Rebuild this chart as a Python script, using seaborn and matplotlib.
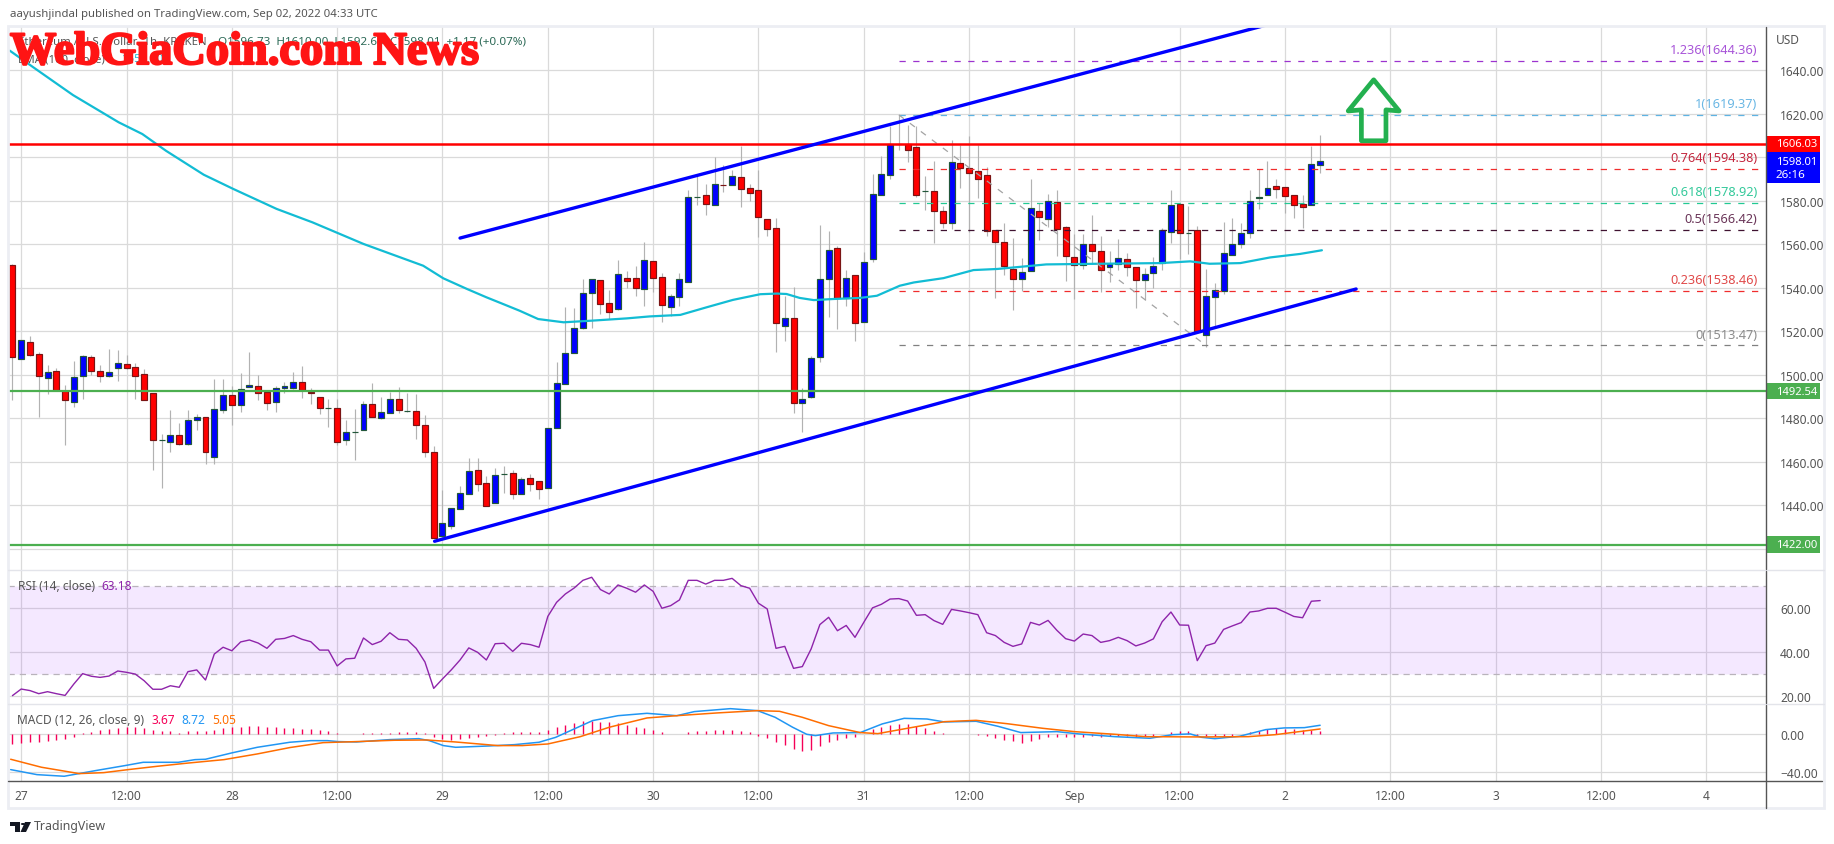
import numpy as np
import pandas as pd
import matplotlib
matplotlib.use('Agg')
import matplotlib.pyplot as plt
import matplotlib.patheffects as pe
import seaborn as sns
from matplotlib.lines import Line2D
from matplotlib.patches import Polygon, Rectangle
from matplotlib.transforms import blended_transform_factory

# Hours since Aug 27 00:00, one candle per hour
hours = np.arange(-1, 149)

opens = [1550.4, 1507.4, 1514.9, 1509.4, 1498.7, 1501.6, 1492.7, 1487.7, 1499.2, 1508.0,
         1501.6, 1499.2, 1503.3, 1504.8, 1503.5, 1500.2, 1491.5, 1469.9, 1469.3, 1472.2,
         1468.4, 1479.0, 1480.5, 1462.4, 1483.6, 1490.6, 1485.9, 1494.6, 1494.7, 1492.0,
         1487.7, 1493.7, 1494.1, 1496.6, 1492.0, 1489.7, 1484.6, 1484.6, 1469.8, 1473.6,
         1474.4, 1486.5, 1480.3, 1482.6, 1488.8, 1483.3, 1483.3, 1476.8, 1464.4, 1425.7,
         1430.7, 1438.1, 1445.4, 1456.2, 1450.2, 1441.3, 1454.3, 1454.8, 1445.0, 1452.5,
         1451.1, 1448.2, 1475.7, 1495.9, 1509.8, 1521.6, 1537.7, 1543.4, 1532.8, 1530.4,
         1544.3, 1544.3, 1539.6, 1552.1, 1544.8, 1531.3, 1535.9, 1542.8, 1581.6, 1582.4,
         1578.1, 1587.2, 1587.3, 1590.7, 1585.6, 1584.7, 1571.4, 1567.3, 1522.6, 1525.9,
         1486.9, 1489.6, 1508.0, 1543.8, 1558.1, 1535.1, 1545.7, 1524.1, 1553.3, 1582.7,
         1591.9, 1606.0, 1606.0, 1604.5, 1584.3, 1584.3, 1575.1, 1569.9, 1597.1, 1594.8,
         1593.4, 1591.6, 1566.3, 1560.8, 1548.4, 1544.1, 1547.8, 1575.1, 1571.4, 1579.2,
         1567.7, 1553.9, 1550.3, 1559.9, 1556.7, 1549.6, 1551.0, 1553.0, 1549.3, 1543.7,
         1546.9, 1551.5, 1565.4, 1578.3, 1565.0, 1566.7, 1518.1, 1535.6, 1538.6, 1555.2,
         1560.2, 1565.0, 1581.4, 1582.4, 1586.6, 1586.1, 1582.4, 1578.3, 1578.1, 1596.5]
highs = [1551.0, 1516.0, 1518.0, 1510.4, 1504.5, 1503.1, 1495.3, 1506.4, 1509.1, 1509.1,
         1504.5, 1511.9, 1511.4, 1509.1, 1505.4, 1502.7, 1491.5, 1472.8, 1483.9, 1477.9,
         1483.9, 1482.0, 1480.5, 1498.1, 1498.1, 1495.0, 1500.9, 1510.5, 1499.9, 1492.0,
         1495.0, 1496.9, 1501.2, 1503.9, 1494.0, 1489.7, 1488.9, 1488.9, 1479.0, 1484.3,
         1488.1, 1496.3, 1489.7, 1492.0, 1494.3, 1491.7, 1491.1, 1481.3, 1467.2, 1447.1,
         1438.7, 1449.1, 1461.8, 1461.8, 1453.7, 1457.2, 1458.3, 1456.3, 1452.9, 1454.5,
         1451.1, 1475.4, 1505.8, 1531.0, 1530.5, 1544.0, 1543.8, 1543.4, 1539.1, 1552.7,
         1547.5, 1549.8, 1560.8, 1552.1, 1546.8, 1537.1, 1546.8, 1585.0, 1591.2, 1587.6,
         1599.9, 1596.4, 1594.1, 1604.9, 1587.6, 1594.1, 1571.4, 1571.9, 1536.3, 1540.2,
         1493.9, 1508.8, 1568.8, 1566.0, 1559.3, 1548.1, 1545.7, 1556.2, 1592.2, 1600.3,
         1614.4, 1619.4, 1614.7, 1614.4, 1591.2, 1598.0, 1577.4, 1607.7, 1605.5, 1609.8,
         1605.5, 1595.3, 1566.3, 1569.7, 1562.7, 1553.6, 1589.9, 1578.8, 1583.0, 1584.9,
         1568.2, 1564.7, 1564.7, 1573.4, 1563.7, 1556.7, 1562.4, 1555.9, 1549.3, 1549.0,
         1553.9, 1567.3, 1584.9, 1578.3, 1577.7, 1568.5, 1548.6, 1542.2, 1570.2, 1572.0,
         1569.7, 1584.9, 1594.5, 1598.2, 1589.9, 1586.1, 1582.4, 1582.6, 1605.1, 1610.1]
lows = [1488.2, 1507.4, 1508.4, 1480.8, 1491.2, 1493.2, 1467.9, 1485.4, 1488.9, 1499.9,
        1496.9, 1498.9, 1497.3, 1502.7, 1488.9, 1488.6, 1456.3, 1448.0, 1464.7, 1467.5,
        1467.5, 1474.8, 1459.1, 1459.1, 1482.3, 1476.9, 1483.1, 1494.6, 1488.2, 1484.0,
        1483.1, 1491.7, 1493.5, 1489.4, 1486.6, 1482.0, 1476.2, 1467.5, 1467.5, 1461.0,
        1474.4, 1480.5, 1479.7, 1482.6, 1482.3, 1482.8, 1470.5, 1462.1, 1425.2, 1425.4,
        1429.2, 1438.1, 1445.4, 1446.8, 1439.9, 1441.3, 1445.7, 1443.0, 1445.0, 1446.4,
        1443.0, 1448.2, 1475.7, 1495.9, 1509.8, 1521.0, 1521.5, 1527.9, 1525.6, 1529.9,
        1539.9, 1536.3, 1531.7, 1538.2, 1524.1, 1526.8, 1531.7, 1542.8, 1578.0, 1573.5,
        1578.1, 1584.1, 1587.3, 1576.9, 1580.0, 1563.4, 1563.9, 1510.3, 1515.4, 1482.3,
        1473.6, 1489.2, 1506.0, 1526.4, 1521.0, 1531.7, 1515.7, 1524.1, 1551.6, 1582.7,
        1589.9, 1603.4, 1597.9, 1581.8, 1575.8, 1560.5, 1567.4, 1566.9, 1585.8, 1565.4,
        1581.2, 1563.9, 1535.3, 1546.0, 1529.9, 1538.3, 1547.8, 1561.9, 1567.7, 1554.7,
        1543.2, 1534.8, 1548.6, 1550.9, 1538.2, 1542.8, 1548.1, 1545.2, 1530.7, 1534.3,
        1539.7, 1548.1, 1560.5, 1553.2, 1555.5, 1519.5, 1512.9, 1522.6, 1537.1, 1555.2,
        1558.2, 1562.8, 1576.2, 1582.4, 1581.4, 1574.3, 1572.0, 1567.4, 1578.1, 1592.7]
closes = [1508.0, 1516.0, 1509.3, 1499.2, 1501.2, 1493.2, 1488.6, 1498.9, 1508.5, 1501.5,
          1499.6, 1501.2, 1505.3, 1502.9, 1499.6, 1488.6, 1469.8, 1470.0, 1472.2, 1468.4,
          1479.1, 1480.5, 1464.3, 1484.2, 1490.6, 1485.9, 1493.4, 1495.2, 1491.8, 1486.8,
          1493.8, 1494.7, 1496.6, 1493.2, 1491.8, 1484.5, 1484.7, 1469.3, 1473.6, 1473.7,
          1486.5, 1480.8, 1482.8, 1488.8, 1483.6, 1483.4, 1476.7, 1464.3, 1425.2, 1431.8,
          1438.7, 1445.6, 1455.7, 1449.6, 1439.9, 1453.9, 1454.4, 1445.0, 1452.0, 1450.0,
          1447.3, 1475.4, 1496.1, 1509.9, 1521.3, 1537.4, 1543.8, 1532.7, 1529.0, 1546.1,
          1543.2, 1540.0, 1552.6, 1544.6, 1532.2, 1536.0, 1543.8, 1581.5, 1581.7, 1578.6,
          1587.5, 1587.1, 1591.2, 1585.5, 1583.6, 1572.3, 1567.1, 1523.6, 1525.9, 1486.9,
          1488.7, 1507.5, 1543.8, 1557.5, 1535.4, 1544.6, 1523.6, 1551.6, 1582.9, 1592.1,
          1606.0, 1606.2, 1603.4, 1582.7, 1584.4, 1575.4, 1569.9, 1597.6, 1595.1, 1592.8,
          1590.1, 1565.9, 1561.1, 1550.1, 1544.1, 1547.1, 1576.5, 1572.6, 1579.7, 1567.1,
          1554.7, 1550.6, 1559.9, 1557.0, 1548.3, 1550.7, 1553.8, 1549.6, 1543.7, 1546.1,
          1549.8, 1566.3, 1577.8, 1565.3, 1565.1, 1520.1, 1536.0, 1538.8, 1555.8, 1559.9,
          1565.0, 1579.7, 1581.5, 1585.6, 1585.5, 1582.3, 1578.1, 1577.2, 1596.7, 1598.0]

ema_hours = [-1.3, 1.4, 5.9, 11.1, 13.8, 16.5, 20.8, 24.2, 29.1, 33.2, 39.0, 45.8, 48.1, 50.8,
             53.0, 54.6, 56.8, 58.9, 61.8, 64.8, 69.0, 71.6, 75.1, 78.1, 81.1, 84.2, 86.1,
             87.2, 88.7, 90.3, 92.5, 95.6, 97.5, 100.1, 101.7, 105.1, 108.5, 111.2, 116.8,
             122.9, 129.8, 133.2, 135.4, 138.9, 142.3, 145.7, 148.2]
ema_values = [1648.9, 1641.2, 1628.5, 1616.0, 1610.6, 1602.9, 1591.9, 1585.3, 1576.2, 1570.0,
              1560.1, 1550.1, 1544.3, 1539.4, 1535.6, 1533.0, 1529.4, 1525.6, 1524.1, 1524.8,
              1525.9, 1526.8, 1527.5, 1531.0, 1534.4, 1537.0, 1537.3, 1537.1, 1535.3, 1534.3,
              1534.8, 1535.3, 1536.3, 1540.9, 1542.4, 1544.4, 1548.1, 1548.6, 1550.7, 1551.0,
              1551.3, 1552.1, 1551.0, 1551.3, 1553.9, 1555.5, 1557.2]

rsi_values = [20.3, 23.3, 22.6, 21.2, 22.1, 21.2, 20.4, 25.6, 30.3, 29.1, 28.6, 29.2, 31.5, 30.9,
              30.1, 27.1, 23.2, 23.2, 24.8, 24.1, 31.2, 32.0, 27.4, 39.2, 42.3, 40.7, 44.7, 45.6,
              44.2, 41.8, 45.9, 46.3, 47.6, 45.9, 44.8, 41.0, 41.0, 33.8, 37.0, 37.3, 46.5, 43.5,
              45.0, 48.9, 45.9, 45.6, 41.8, 35.6, 23.6, 27.9, 32.0, 36.5, 42.0, 40.0, 36.5, 43.9,
              44.1, 40.4, 44.1, 43.5, 42.3, 56.3, 62.7, 66.5, 69.2, 72.7, 74.1, 68.5, 66.5, 70.6,
              69.1, 67.3, 70.6, 67.7, 60.0, 61.2, 63.8, 72.7, 72.7, 71.0, 72.7, 72.7, 73.6, 70.3,
              69.1, 62.3, 59.7, 41.8, 42.7, 32.7, 33.5, 41.5, 52.6, 55.9, 49.8, 52.2, 46.8, 53.6,
              60.2, 61.8, 64.2, 64.4, 63.3, 56.8, 57.1, 54.4, 52.7, 59.5, 58.8, 58.0, 57.1, 48.9,
              47.6, 44.5, 42.7, 43.8, 53.6, 52.4, 54.5, 50.0, 46.2, 45.1, 48.3, 47.6, 44.5, 45.3,
              46.8, 45.3, 42.9, 44.2, 46.1, 53.9, 58.3, 52.4, 52.3, 36.2, 43.0, 44.2, 50.4, 52.0,
              53.5, 58.3, 58.8, 60.0, 60.0, 58.2, 56.3, 55.7, 63.2, 63.5]

macd_hist = [-10.5, -9.1, -8.4, -7.7, -6.7, -6.0, -4.9, -2.5, 1.4, 2.8, 4.9, 5.6, 6.3, 7.4, 8.1,
             6.7, 4.6, 3.9, 3.5, 1.8, 3.5, 3.5, 3.5, 4.6, 6.7, 7.7, 7.7, 8.8, 8.8, 8.1, 8.1, 6.7,
             6.7, 6.0, 5.6, 4.9, 3.5, 1.0, 0.4, 0.4, 1.4, 1.4, 1.8, 1.8, 2.5, 2.1, 2.1, 1.8, -3.2,
             -5.3, -6.0, -5.3, -3.9, -3.2, -2.1, -0.4, 1.8, 2.5, 2.1, 2.5, 2.1, 4.2, 7.7, 9.8,
             12.3, 14.0, 13.7, 13.3, 12.6, 11.6, 10.2, 7.7, 6.7, 4.6, 2.5, 0.7, 0.4, 2.5, 3.5,
             3.5, 4.6, 4.6, 4.6, 3.5, 2.5, -1.4, -3.9, -8.1, -10.9, -15.4, -17.2, -16.1, -11.9,
             -7.7, -5.6, -3.9, -2.5, 0.3, 5.6, 8.1, 9.5, 10.9, 10.9, 8.4, 6.7, 3.5, 1.4, 0.4, 0.4,
             0.2, -1.0, -2.1, -3.9, -6.0, -7.0, -9.1, -7.0, -4.9, -2.5, -2.5, -2.5, -2.8, -2.5,
             -2.1, -2.5, -2.1, -2.1, -2.1, -2.5, -2.1, -1.8, 0.2, 2.5, 3.2, 3.5, -1.4, -2.1, -2.1,
             -2.1, -1.4, 0.7, 2.1, 3.5, 5.3, 6.3, 5.6, 5.3, 4.9, 4.9, 3.9]

macd_hours = [-1.2, 1.8, 4.9, 8.5, 11.8, 13.9, 17.9, 19.8, 21.0, 24.0, 26.9, 30.6, 33.0, 34.9,
              36.1, 38.2, 42.0, 45.3, 46.5, 48.1, 49.5, 53.3, 56.2, 59.0, 60.9, 65.1, 68.0,
              71.3, 74.7, 76.7, 80.8, 83.9, 85.9, 87.9, 89.5, 90.5, 92.5, 95.6, 98.1, 100.6,
              103.2, 105.2, 108.8, 111.3, 113.9, 118.0, 120.5, 124.6, 128.6, 131.2, 133.2,
              134.5, 136.0, 138.8, 141.8, 143.9, 146.2, 148.0]
macd_line = [-37.2, -42.5, -44.2, -38.2, -33.0, -29.5, -29.5, -26.7, -26.3, -19.6, -13.7, -8.4,
             -6.7, -6.7, -7.7, -8.1, -5.6, -4.6, -6.7, -11.9, -13.7, -12.3, -10.9, -8.4, -3.2,
             14.4, 19.6, 22.1, 19.6, 23.9, 27.0, 24.9, 17.9, 7.4, 0.0, -1.4, 1.4, 1.8, 10.9,
             16.8, 16.1, 13.0, 13.7, 8.4, 1.8, 2.8, 0.4, -2.5, -4.2, -0.4, 0.4, -3.2, -4.6,
             -2.1, 4.9, 6.7, 7.0, 9.5]

signal_hours = [-1.2, 2.3, 6.6, 9.4, 12.2, 15.5, 18.8, 23.1, 26.9, 30.6, 34.4, 38.2, 42.5, 46.2,
                49.5, 54.3, 57.1, 60.0, 63.7, 67.0, 71.3, 74.7, 79.3, 83.9, 86.4, 89.0, 92.0,
                95.6, 97.6, 101.2, 105.2, 108.8, 112.3, 116.4, 120.0, 124.6, 128.1, 134.2,
                139.8, 142.9, 148.0]
signal_line = [-26.3, -34.7, -41.4, -40.4, -37.2, -33.7, -30.5, -26.7, -20.7, -14.0, -8.8, -7.7,
               -6.3, -6.0, -8.1, -11.9, -11.9, -10.2, -2.5, 7.4, 17.2, 19.6, 22.5, 24.9, 24.2,
               17.9, 9.1, 1.8, 0.7, 6.7, 13.3, 14.7, 11.2, 6.3, 2.8, 0.0, -2.5, -2.8, -2.5, -0.4, 5.6]

# Fibonacci retracement drawn from the swing high to the swing low
fib_ratios = ['1.236', '1', '0.764', '0.618', '0.5', '0.236', '0']
fib_levels = [1644.36, 1619.37, 1594.38, 1578.92, 1566.42, 1538.46, 1513.47]
fib_colors = ['#9c33cf', '#5fb3e3', '#f02d2d', '#22c993', '#3f1230', '#f02d2d', '#808080']
fib_text_colors = ['#a855d8', '#6ab7e4', '#c4283f', '#35c99b', '#6a3558', '#e04a4a', '#8c8c8c']
fib_swing_hours = [100, 135]
fib_swing_prices = [1619.37, 1513.47]

upper_hours = [50, 145]
upper_prices = [1562.8, 1664.0]
lower_hours = [47.1, 152.1]
lower_prices = [1423.5, 1539.4]
arrow_hours = [154.1, 157.0, 155.5, 155.5, 152.7, 152.7, 151.2]
arrow_prices = [1635.5, 1621.2, 1621.7, 1607.5, 1607.5, 1621.7, 1621.2]

tick_hours = list(range(0, 193, 12))
tick_labels = ['27', '12:00', '28', '12:00', '29', '12:00', '30', '12:00', '31', '12:00', 'Sep',
               '12:00', '2', '12:00', '3', '12:00', '4']
price_ticks = list(range(1420, 1641, 20))
rsi_ticks = [20, 40, 60]
macd_ticks = [-40, 0]

FW, FH = 1834, 845
UI_FONT = 'Noto Sans'
GRID = '#dadada'
AXIS = '#555555'
BLUE = '#0000ff'
RED = '#ff0000'
GREEN = '#4caf50'

sns.set_theme(style='white')
plt.rcParams['font.family'] = [UI_FONT, 'DejaVu Sans']

fig = plt.figure(figsize=(FW / 100, FH / 100), dpi=100, facecolor='white')


def pane(top, bottom):
    return fig.add_axes([8 / FW, 1 - bottom / FH, (1766 - 8) / FW, (bottom - top) / FH])


def ftext(x, y, s, **kw):
    kw.setdefault('fontsize', 8.6)
    kw.setdefault('va', 'center')
    kw.setdefault('color', '#555555')
    return fig.text(x / FW, 1 - y / FH, s, **kw)


ax = pane(27.5, 571)
ax_rsi = pane(571, 705)
ax_macd = pane(705, 782)

for a in (ax, ax_rsi, ax_macd):
    a.set_xlim(-1.504, 198.8)
    a.set_xticks(tick_hours)
    a.grid(True, color=GRID, linewidth=0.9)
    a.set_axisbelow(True)
    a.yaxis.tick_right()
    a.tick_params(axis='both', length=0, labelsize=8.6, labelcolor='#555555', pad=10)
    for s in a.spines.values():
        s.set_visible(False)

for a in (ax, ax_rsi):
    a.tick_params(labelbottom=False)
ax_macd.set_xticklabels(tick_labels)
ax_macd.tick_params(axis='x', pad=6)

# Main pane: candles
ax.set_ylim(1410.3, 1660)
ax.set_yticks(price_ticks)
ax.set_yticklabels(['' if p in (1420, 1600) else f'{p:.2f}' for p in price_ticks])

o = np.array(opens)
c = np.array(closes)
up = c >= o
ax.vlines(hours, lows, highs, color='#b2b2b2', linewidth=0.85, zorder=2)
ax.bar(hours[up], (c - o)[up], bottom=o[up], width=0.68, color=BLUE,
       edgecolor='#22573a', linewidth=0.85, zorder=3)
ax.bar(hours[~up], (c - o)[~up], bottom=o[~up], width=0.68, color=RED,
       edgecolor='#7a1414', linewidth=0.85, zorder=3)

ema_df = pd.DataFrame({'hour': ema_hours, 'value': ema_values})
sns.lineplot(data=ema_df, x='hour', y='value', ax=ax, color='#12bcd4', linewidth=1.6,
             errorbar=None, zorder=4)

# Fibonacci levels, they start at the swing high
for ratio, level, col, tcol in zip(fib_ratios, fib_levels, fib_colors, fib_text_colors):
    ax.plot([100, 198.5], [level, level], color=col, linewidth=0.9, dashes=(5, 6), zorder=4)
    ax.annotate(f'{ratio}({level:.2f})', (197.8, level), xytext=(0, 3.5), textcoords='offset points',
                ha='right', va='bottom', fontsize=9.2, color=tcol, zorder=5)
ax.plot(fib_swing_hours, fib_swing_prices, color='#a3a3a3', linewidth=0.9, dashes=(5, 6), zorder=4)

ax.axhline(1606.03, color=RED, linewidth=1.8, zorder=5)
ax.axhline(1492.54, color=GREEN, linewidth=1.6, zorder=5)
ax.axhline(1422.0, color=GREEN, linewidth=1.6, zorder=5)

ax.plot(upper_hours, upper_prices, color=BLUE, linewidth=2.4, zorder=6)
ax.plot(lower_hours, lower_prices, color=BLUE, linewidth=2.4, zorder=6)
ax.add_patch(Polygon(np.column_stack([arrow_hours, arrow_prices]), closed=True, fill=False,
                     edgecolor='#23b04f', linewidth=3.4, joinstyle='round', zorder=7))
ax.set_xlabel('')
ax.set_ylabel('')

# Price tags on the axis
tag_tr = blended_transform_factory(ax.transAxes, ax.transData)
tags = [(1602.2, 1609.9, RED, '1606.03'), (1588.1, 1602.2, BLUE, '1598.01'),
        (1488.7, 1496.3, GREEN, '1492.54'), (1418.3, 1425.9, GREEN, '1422.00')]
for lo, hi, col, label in tags:
    ax.add_patch(Rectangle((1.0, lo), 54 / 1758, hi - lo, transform=tag_tr, facecolor=col,
                           edgecolor='none', clip_on=False, zorder=8))
    if label == '1598.01':
        ax.text(1.0055, 1597.9, label, transform=tag_tr, color='white', fontsize=8.1,
                fontweight='bold', va='center', clip_on=False, zorder=9)
        ax.text(1.0055, 1591.9, '26:16', transform=tag_tr, color='white', fontsize=8.4,
                va='center', clip_on=False, zorder=9)
    else:
        ax.text(1.0055, (lo + hi) / 2, label, transform=tag_tr, color='white', fontsize=8.1,
                fontweight='bold', va='center', clip_on=False, zorder=9)

# RSI pane
ax_rsi.set_ylim(16.5, 77.4)
ax_rsi.set_yticks(rsi_ticks)
ax_rsi.set_yticklabels([f'{v:.2f}' for v in rsi_ticks])
ax_rsi.axhspan(30, 70, facecolor='#9b30ff', alpha=0.11, zorder=1.5)
for lvl in (30, 70):
    ax_rsi.axhline(lvl, color='#b9b3bb', linewidth=0.9, dashes=(5, 4), zorder=2)
rsi_df = pd.DataFrame({'hour': hours, 'value': rsi_values})
sns.lineplot(data=rsi_df, x='hour', y='value', ax=ax_rsi, color='#8e24aa', linewidth=1.0,
             errorbar=None, zorder=3)
ax_rsi.set_xlabel('')
ax_rsi.set_ylabel('')

# MACD pane
ax_macd.set_ylim(-49.2, 31.9)
ax_macd.set_yticks(macd_ticks)
ax_macd.set_yticklabels(['\u221240.00', '0.00'])
ax_macd.vlines(hours, 0, macd_hist, color='#f50057', linewidth=1.0, zorder=3)
macd_df = pd.DataFrame({'hour': macd_hours, 'value': macd_line})
signal_df = pd.DataFrame({'hour': signal_hours, 'value': signal_line})
sns.lineplot(data=macd_df, x='hour', y='value', ax=ax_macd, color='#2196f3', linewidth=1.1,
             errorbar=None, zorder=4)
sns.lineplot(data=signal_df, x='hour', y='value', ax=ax_macd, color='#ff6d00', linewidth=1.1,
             errorbar=None, zorder=5)
ax_macd.set_xlabel('')
ax_macd.set_ylabel('')

# Chart frame and separators
def fline(x0, y0, x1, y1, **kw):
    fig.add_artist(Line2D([x0 / FW, x1 / FW], [1 - y0 / FH, 1 - y1 / FH], **kw))


fig.add_artist(Rectangle((8 / FW, 1 - 809 / FH), (1824 - 8) / FW, (809 - 27) / FH, fill=False,
                         edgecolor='#eceef3', linewidth=2))
for y in (571, 705):
    fline(8, y, 1824, y, color='#e3e4ea', linewidth=1)
fline(8, 782, 1822, 782, color=AXIS, linewidth=1)
fline(1766, 28, 1766, 570, color=AXIS, linewidth=1)
fline(1766, 572, 1766, 704, color=AXIS, linewidth=1)
fline(1766, 706, 1766, 809, color=AXIS, linewidth=1)

# Header, legends and logo
ftext(10, 15, 'aayushjindal published on TradingView.com, Sep 02, 2022 04:33 UTC', fontsize=8.2)
ftext(1776, 40, 'USD')
ftext(18, 42, 'Ethereum / U.S. Dollar, 1h, KRAKEN', fontsize=8.2)
ftext(218, 42, 'O1596.73  H1610.00  L1592.60  C1598.01  +1.17 (+0.07%)', fontsize=8.4, color='#2d6a57')
ftext(18, 60, 'EMA (100, close)', fontsize=8.2)
ftext(122, 60, '1557.20', fontsize=8.2, color='#12bcd4')
ftext(18, 587, 'RSI (14, close)')
ftext(101.5, 587, '63.18', color='#8e24aa')
ftext(17, 721, 'MACD (12, 26, close, 9)')
ftext(151, 721, '3.67', color='#f50057')
ftext(181, 721, '8.72', color='#2196f3')
ftext(212, 721, '5.05', color='#ff6d00')

for pts in ([(10, 823), (20, 823), (20, 833), (15, 833), (15, 827), (10, 827)],
            [(25, 823), (31, 823), (26, 833), (20.5, 833)]):
    fig.add_artist(Polygon([(x / FW, 1 - y / FH) for x, y in pts], closed=True, facecolor='#131722',
                           edgecolor='none', transform=fig.transFigure))
fig.add_artist(plt.Circle((23 / FW, 1 - 825 / FH), 0.0012, facecolor='#131722', edgecolor='none',
                          transform=fig.transFigure))
ftext(34, 827, 'TradingView', fontsize=8.9, color='#555555')

# Site watermark over the top left corner
mark = ftext(10, 54, 'WebGiaCoin.com News', family='Liberation Serif', fontweight='bold',
             fontsize=33.4, color='#ff1414', zorder=20)
mark.set_path_effects([pe.withStroke(linewidth=1.6, foreground='#ff1414')])

fig.savefig('out.png', dpi=100)
